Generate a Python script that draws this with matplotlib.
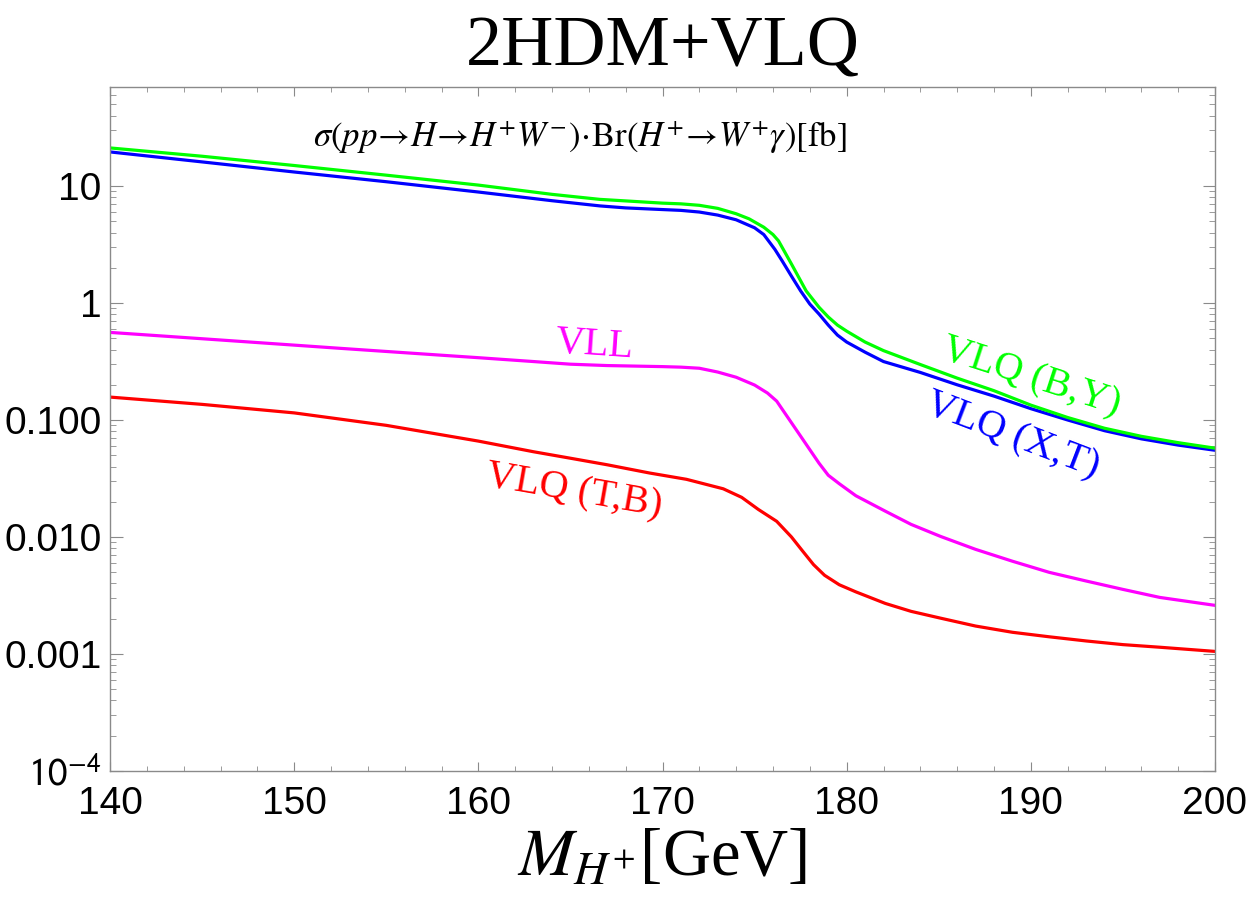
import matplotlib
matplotlib.use("Agg")
import matplotlib.pyplot as plt
from matplotlib.ticker import MultipleLocator, FixedLocator, FixedFormatter, LogLocator, NullFormatter

plt.rcParams['mathtext.fontset'] = 'stix'

# mass of the charged Higgs [GeV] and cross section x Br [fb]
m_by = [140, 145, 150, 155, 160, 164, 166.6, 168, 170, 171, 172, 173, 174, 174.7, 175.5, 176, 176.3,
        177, 177.8, 178.5, 179, 179.5, 180, 181, 182, 184, 186, 188, 190, 192, 194, 196, 198, 200]
vlq_by = [21.2, 18.0, 15.0, 12.4, 10.2, 8.5, 7.7, 7.47, 7.15, 7.05, 6.85, 6.45, 5.8, 5.25, 4.45, 3.85,
          3.40, 2.16, 1.27, 0.92, 0.76, 0.648, 0.575, 0.464, 0.392, 0.298, 0.228, 0.178, 0.134,
          0.105, 0.085, 0.0725, 0.0640, 0.0574]

m_xt = [140, 145, 150, 155, 160, 164, 166.6, 168, 170, 171, 172, 173, 174, 175, 175.5, 176.1, 176.5,
        177, 177.5, 178, 178.5, 179, 179.5, 180, 181, 182, 184, 186, 188, 190, 192, 194, 196, 198, 200]
vlq_xt = [19.6, 16.1, 13.2, 10.9, 8.9, 7.5, 6.77, 6.51, 6.3, 6.2, 6.0, 5.65, 5.15, 4.4, 3.85, 2.88,
          2.29, 1.70, 1.27, 0.98, 0.805, 0.648, 0.532, 0.464, 0.38, 0.316, 0.255, 0.200, 0.160,
          0.125, 0.100, 0.081, 0.069, 0.0610, 0.0551]

m_vll = [140, 146, 152.5, 158, 160, 163, 165, 167, 170, 171, 172, 173, 174, 175, 175.7, 176.2, 177,
         177.5, 178, 178.5, 179, 179.6, 180.5, 182.1, 183.5, 185.1, 187, 189, 191, 193, 195, 197, 200]
vll = [0.561, 0.483, 0.41, 0.358, 0.341, 0.316, 0.30, 0.292, 0.286, 0.283, 0.277, 0.257, 0.232,
       0.199, 0.170, 0.145, 0.0948, 0.0727, 0.0557, 0.0427, 0.0337, 0.0285, 0.0225, 0.0166, 0.0128,
       0.0101, 0.00783, 0.0062, 0.00498, 0.0042, 0.00356, 0.00304, 0.0026]

m_tb = [140, 145, 150, 155, 160, 163, 165, 167, 169.3, 171.3, 173.3, 174.3, 175.2, 176.2, 177,
        177.6, 178.2, 178.8, 179.6, 180.5, 182.1, 183.5, 185.1, 187, 189, 191, 193, 195, 197, 200]
vlq_tb = [0.157, 0.136, 0.115, 0.09, 0.066, 0.0535, 0.0471, 0.0414, 0.0352, 0.0311, 0.0258, 0.0218,
          0.0172, 0.0136, 0.0100, 0.0076, 0.0058, 0.0047, 0.0039, 0.00339, 0.0027, 0.00231,
          0.00202, 0.00173, 0.00153, 0.0014, 0.00129, 0.0012, 0.00114, 0.00105]

ytick_vals = [1e-4, 1e-3, 1e-2, 1e-1, 1, 10]
ytick_labels = [r'$\mathsf{10}^{\mathsf{-4}}$', '0.001', '0.010', '0.100', '1', '10']

fig = plt.figure(figsize=(12.5, 9.09), dpi=100)
ax = fig.add_axes([0.088, 0.152, 0.884, 0.752])

lw = 2.3
ax.plot(m_xt, vlq_xt, color='#0000ff', lw=lw)
ax.plot(m_by, vlq_by, color='#00ff00', lw=lw)
ax.plot(m_vll, vll, color='#ff00ff', lw=lw)
ax.plot(m_tb, vlq_tb, color='#ff0000', lw=lw)

ax.set_yscale('log')
ax.set_xlim(140, 200)
ax.set_ylim(1e-4, 70)

ax.xaxis.set_major_locator(MultipleLocator(10))
ax.xaxis.set_minor_locator(MultipleLocator(2))
ax.yaxis.set_major_locator(FixedLocator(ytick_vals))
ax.yaxis.set_major_formatter(FixedFormatter(ytick_labels))
ax.yaxis.set_minor_locator(LogLocator(base=10, subs=range(2, 10)))
ax.yaxis.set_minor_formatter(NullFormatter())

grey = '#8a8a8a'
for s in ax.spines.values():
    s.set_color(grey)
    s.set_linewidth(1.0)
ax.tick_params(which='both', direction='in', top=True, right=True, color=grey,
               labelsize=28, labelcolor='black')
ax.tick_params(axis='x', which='major', length=6.5, pad=11)
ax.tick_params(axis='x', which='minor', length=3.6)
ax.tick_params(axis='y', which='major', length=9, pad=6)
ax.tick_params(axis='y', which='minor', length=4.3)
for lab in ax.get_xticklabels() + ax.get_yticklabels():
    lab.set_family('Liberation Sans')

# labels
ax.set_title('2HDM+VLQ', fontsize=52, family='Liberation Serif', pad=16)
ax.set_xlabel(r'$M_{H^{+}}$[GeV]', fontsize=48, family='Liberation Serif', labelpad=4)

ax.text(0.425, 0.955, r'$\sigma(pp\!\rightarrow\! H\!\rightarrow\! H^{+}W^{-})\!\cdot\!\mathrm{Br}(H^{+}\!\rightarrow\! W^{+}\gamma)[\mathrm{fb}]$',
        transform=ax.transAxes, ha='center', va='top', fontsize=25)

lab_font = dict(family='Liberation Serif', fontsize=29, ha='center', va='center')
ax.text(166.3, 0.437, 'VLL', color='#ff00ff', rotation=-4, **lab_font)
ax.text(165.2, 0.0246, 'VLQ (T,B)', color='#ff0000', rotation=-10, **lab_font)
ax.text(190.0, 0.23, 'VLQ (B,Y)', color='#00ff00', rotation=-18, **lab_font)
ax.text(189.0, 0.0727, 'VLQ (X,T)', color='#0000ff', rotation=-21, **lab_font)

fig.savefig('out.png', dpi=100)
